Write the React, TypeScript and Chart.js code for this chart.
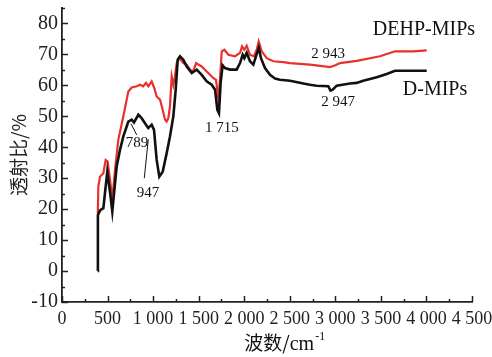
import React, { useEffect, useRef } from "react";
import { Chart, registerables } from "chart.js";

Chart.register(...registerables);

// D-MIPs (black)
const dWave = [392, 394, 420, 454, 497, 527, 552, 600, 637, 673, 710, 728, 765, 790, 838, 874, 922, 947, 984, 1010, 1039, 1068, 1105, 1149, 1185, 1222, 1248, 1270, 1295, 1332, 1369, 1424, 1479, 1533, 1588, 1643, 1680, 1705, 1723, 1741, 1763, 1789, 1844, 1917, 1954, 1983, 2001, 2027, 2063, 2100, 2129, 2160, 2184, 2228, 2283, 2338, 2393, 2503, 2649, 2722, 2795, 2923, 2947, 2971, 3015, 3161, 3234, 3307, 3454, 3564, 3655, 3783, 4003];
const dTrans = [0, 18.1, 19.7, 20.3, 32.1, 25.5, 19.2, 33.8, 39.2, 43.5, 46.7, 48.3, 48.9, 48.0, 50.5, 49.4, 47.3, 46.2, 47.3, 45.6, 35.9, 30.5, 32.1, 38.1, 43.5, 50.0, 58.6, 68.3, 69.4, 68.3, 66.1, 64.0, 65.1, 63.4, 61.3, 60.2, 58.6, 52.1, 51.0, 60.8, 66.5, 65.6, 65.1, 65.1, 67.2, 69.9, 68.8, 70.5, 67.8, 66.7, 69.4, 72.1, 68.8, 65.6, 63.4, 62.2, 61.8, 61.5, 60.6, 60.2, 59.9, 59.7, 58.3, 58.6, 59.9, 60.6, 60.8, 61.5, 62.6, 63.7, 64.7, 64.7, 64.7];

// DEHP-MIPs (red)
const rWave = [393, 399, 417, 454, 479, 501, 527, 552, 582, 618, 673, 710, 728, 765, 820, 856, 892, 922, 947, 984, 1013, 1039, 1076, 1105, 1131, 1149, 1167, 1185, 1204, 1222, 1240, 1259, 1288, 1332, 1368, 1405, 1441, 1471, 1533, 1588, 1625, 1660, 1690, 1716, 1734, 1753, 1782, 1826, 1899, 1954, 1976, 2001, 2027, 2063, 2107, 2137, 2159, 2192, 2247, 2319, 2429, 2503, 2722, 2942, 3000, 3052, 3234, 3490, 3655, 3856, 4003];
const rTrans = [18.5, 27.3, 30.5, 31.6, 35.9, 35.4, 29.5, 23.0, 32.7, 42.4, 50.0, 55.4, 58.0, 59.3, 59.7, 60.2, 59.7, 60.8, 59.7, 61.3, 59.1, 56.4, 55.4, 52.1, 48.9, 48.3, 49.4, 53.2, 62.9, 60.2, 62.9, 67.2, 68.8, 67.2, 66.7, 65.1, 64.5, 67.2, 66.1, 64.5, 63.4, 62.4, 61.8, 55.9, 61.8, 71.0, 71.5, 69.9, 69.4, 70.5, 72.6, 71.5, 72.8, 69.9, 69.4, 71.5, 74.2, 71.0, 68.8, 67.8, 67.5, 67.2, 66.7, 65.9, 66.5, 67.2, 67.9, 69.4, 71.0, 71.0, 71.3];

const xTickValues = [0, 500, 1000, 1500, 2000, 2500, 3000, 3500, 4000, 4500];
const xTickLabels = ["0", "500", "1 000", "1 500", "2 000", "2 500", "3 000", "3 500", "4 000", "4 500"];
const yTickValues = [-10, 0, 10, 20, 30, 40, 50, 60, 70, 80];

// annotations: text, wavenumber, transmittance
const labelTexts = ["DEHP-MIPs", "D-MIPs", "2 943", "2 947", "1 715", "789", "947"];
const labelX = [3973, 4094, 2920, 3030, 1756, 823, 944];
const labelY = [78.0, 58.6, 70.2, 54.7, 46.3, 41.4, 25.2];
const labelSizes = [20, 20, 15, 15, 15, 15, 15];
// leader lines [x1, y1, x2, y2]
const leaders = [
  [757, 47.6, 820, 44.0],
  [903, 30.0, 947, 42.6],
];

const SERIF = '"Liberation Serif", "Times New Roman", serif';
const CJK = '"Noto Sans CJK SC", sans-serif';

const decorPlugin = {
  id: "decor",
  afterDraw(chart: any) {
    const ctx = chart.ctx;
    const xs = chart.scales.x;
    const ys = chart.scales.y;
    const area = chart.chartArea;
    ctx.save();
    // inward ticks
    ctx.strokeStyle = "#222";
    ctx.lineWidth = 1.5;
    ctx.beginPath();
    for (let v = 0; v <= 4500; v += 250) {
      const px = Math.round(xs.getPixelForValue(v)) + 0.5;
      const len = v % 500 === 0 ? 6 : 3;
      ctx.moveTo(px, area.bottom);
      ctx.lineTo(px, area.bottom - len);
    }
    for (let v = -10; v <= 85; v += 5) {
      const py = Math.round(ys.getPixelForValue(v)) + 0.5;
      const len = v % 10 === 0 ? 6 : 3;
      ctx.moveTo(area.left, py);
      ctx.lineTo(area.left + len, py);
    }
    ctx.stroke();

    // leader lines
    ctx.lineWidth = 1;
    ctx.strokeStyle = "#111";
    ctx.beginPath();
    leaders.forEach((l) => {
      ctx.moveTo(xs.getPixelForValue(l[0]), ys.getPixelForValue(l[1]));
      ctx.lineTo(xs.getPixelForValue(l[2]), ys.getPixelForValue(l[3]));
    });
    ctx.stroke();

    // annotation texts
    ctx.fillStyle = "#111";
    ctx.textAlign = "center";
    ctx.textBaseline = "middle";
    labelTexts.forEach((t, i) => {
      ctx.font = `${labelSizes[i]}px ${SERIF}`;
      ctx.fillText(t, xs.getPixelForValue(labelX[i]), ys.getPixelForValue(labelY[i]));
    });

    // x axis title: 波数/cm^-1
    const cx = area.left + area.width * 0.542;
    const cy = 343;
    const p1 = "波数/";
    const p2 = "cm";
    const p3 = "-1";
    ctx.font = `19px ${CJK}`;
    const w1 = ctx.measureText(p1).width;
    ctx.font = `20px ${SERIF}`;
    const w2 = ctx.measureText(p2).width;
    ctx.font = `12px ${SERIF}`;
    const w3 = ctx.measureText(p3).width;
    let x0 = cx - (w1 + w2 + w3) / 2;
    ctx.textAlign = "left";
    ctx.textBaseline = "alphabetic";
    ctx.font = `19px ${CJK}`;
    ctx.fillText(p1, x0, cy + 7);
    x0 += w1;
    ctx.font = `20px ${SERIF}`;
    ctx.fillText(p2, x0, cy + 7);
    x0 += w2;
    ctx.font = `12px ${SERIF}`;
    ctx.fillText(p3, x0 + 1, cy - 3);
    ctx.restore();
  },
};

export default function App() {
  const ref = useRef<HTMLCanvasElement | null>(null);
  useEffect(() => {
    if (!ref.current) return;
    const chart = new Chart(ref.current, {
      type: "line",
      data: {
        datasets: [
          {
            label: "D-MIPs",
            data: dWave.map((x, i) => ({ x, y: dTrans[i] })),
            borderColor: "#111111",
            borderWidth: 2.6,
            pointRadius: 0,
            tension: 0,
            fill: false,
          },
          {
            label: "DEHP-MIPs",
            data: rWave.map((x, i) => ({ x, y: rTrans[i] })),
            borderColor: "#e8312b",
            borderWidth: 2.2,
            pointRadius: 0,
            tension: 0,
            fill: false,
          },
        ],
      },
      options: {
        responsive: false,
        animation: false,
        layout: { padding: { top: 8, right: 20, left: 0, bottom: 0 } },
        plugins: { legend: { display: false }, tooltip: { enabled: false } },
        scales: {
          x: {
            type: "linear",
            min: 0,
            max: 4500,
            afterBuildTicks: (s: any) => {
              s.ticks = xTickValues.map((v) => ({ value: v }));
            },
            afterFit: (s: any) => {
              s.height = 55;
              s.paddingRight = 0;
              s.paddingLeft = 0;
            },
            ticks: {
              padding: 6,
              maxRotation: 0,
              autoSkip: false,
              color: "#222",
              font: { family: SERIF, size: 18 },
              callback: (v: any) => {
                const i = xTickValues.indexOf(Number(v));
                return i >= 0 ? xTickLabels[i] : "";
              },
            },
            grid: { display: true, drawOnChartArea: false, drawTicks: false },
            border: { display: true, color: "#222", width: 1.8 },
          },
          y: {
            type: "linear",
            min: -10,
            max: 85,
            afterBuildTicks: (s: any) => {
              s.ticks = yTickValues.map((v) => ({ value: v }));
            },
            afterFit: (s: any) => {
              s.width = 62;
              s.paddingTop = 0;
              s.paddingBottom = 0;
            },
            ticks: {
              padding: 4,
              autoSkip: false,
              color: "#222",
              font: { family: SERIF, size: 20 },
            },
            title: {
              display: true,
              text: "透射比/%",
              color: "#222",
              font: { family: CJK, size: 19 },
              padding: { top: 7, bottom: 0 },
            },
            grid: { display: true, drawOnChartArea: false, drawTicks: false },
            border: { display: true, color: "#222", width: 1.8 },
          },
        },
      },
      plugins: [decorPlugin],
    } as any);
    return () => chart.destroy();
  }, []);
  return (
    <div style={{ position: "absolute", left: 0, top: 0, width: 492, height: 357 }}>
      <canvas ref={ref} width={492} height={357} style={{ display: "block" }} />
    </div>
  );
}
